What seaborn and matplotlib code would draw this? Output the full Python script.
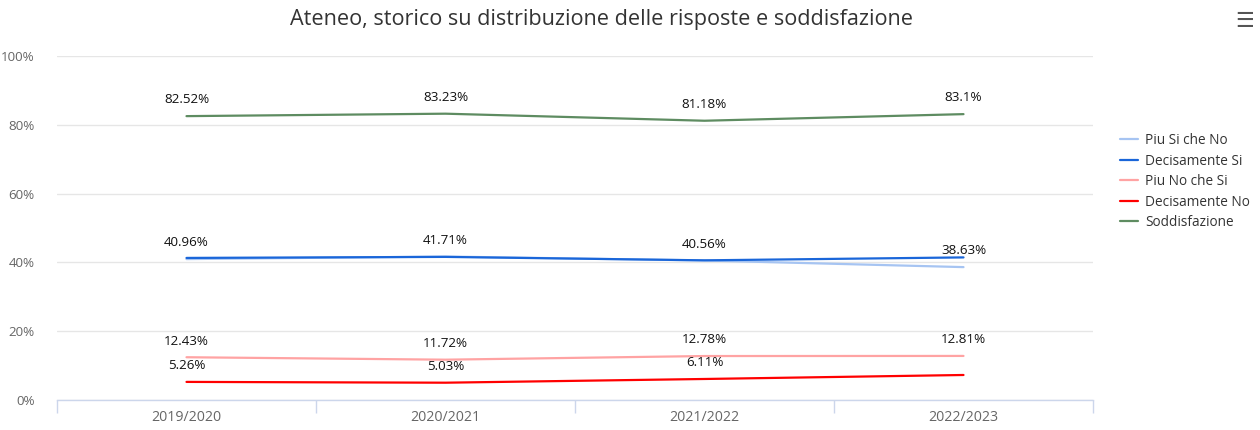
import pandas as pd
import matplotlib
matplotlib.use("Agg")
import matplotlib.pyplot as plt
from matplotlib.ticker import FixedLocator, PercentFormatter
import seaborn as sns

# data
years = ["2019/2020", "2020/2021", "2021/2022", "2022/2023"]
piu_si_che_no = [40.96, 41.71, 40.56, 38.63]
decisamente_si = [41.3, 41.6, 40.6, 41.45]
piu_no_che_si = [12.43, 11.72, 12.78, 12.81]
decisamente_no = [5.26, 5.03, 6.11, 7.27]
soddisfazione = [82.52, 83.23, 81.18, 83.1]

series_names = ["Piu Si che No", "Decisamente Si", "Piu No che Si", "Decisamente No", "Soddisfazione"]
series_values = [piu_si_che_no, decisamente_si, piu_no_che_si, decisamente_no, soddisfazione]
# which data labels are visible in the original (overlapping ones are hidden)
label_visible = [
    [True, True, True, True],
    [False, False, False, False],
    [True, True, True, True],
    [True, True, True, False],
    [True, True, True, True],
]
colors = ["#a6c4f2", "#1a66d9", "#ffa3a3", "#ff0000", "#5e8c61"]

df = pd.DataFrame(
    [(name, yr, v) for name, vals in zip(series_names, series_values) for yr, v in zip(years, vals)],
    columns=["serie", "anno", "valore"],
)

sns.set_style("white")
plt.rcParams["font.family"] = ["Open Sans", "DejaVu Sans"]

fig = plt.figure(figsize=(12.6, 4.3), dpi=100)
ax = fig.add_axes([57 / 1260, 30 / 430, (1093 - 57) / 1260, (400 - 56) / 430])

sns.lineplot(
    data=df, x="anno", y="valore", hue="serie",
    hue_order=series_names, palette=dict(zip(series_names, colors)),
    linewidth=1.6, ax=ax, legend=True, sort=False,
)

# data labels above the points
for name, vals, vis in zip(series_names, series_values, label_visible):
    for i, (v, show) in enumerate(zip(vals, vis)):
        if show:
            ax.annotate(f"{v:g}%", (i, v), xytext=(0, 7), textcoords="offset points",
                        ha="center", va="bottom", fontsize=9.6, color="#111111")

ax.set_xlim(-0.5, 3.5)
ax.set_ylim(0, 100)
ax.yaxis.set_major_locator(FixedLocator([0, 20, 40, 60, 80, 100]))
ax.yaxis.set_major_formatter(PercentFormatter(decimals=0))
ax.grid(axis="y", color="#e6e6e6", linewidth=1)
ax.grid(axis="x", visible=False)
ax.set_xlabel("")
ax.set_ylabel("")

ax.set_xticks(range(len(years)))
ax.set_xticklabels(years)
ax.xaxis.set_minor_locator(FixedLocator([-0.5, 0.5, 1.5, 2.5, 3.5]))
ax.tick_params(axis="x", which="major", bottom=False, length=0, pad=7, labelsize=10.2, labelcolor="#666666")
ax.tick_params(axis="x", which="minor", bottom=True, length=9, width=1, color="#ccd6eb", direction="out")
ax.tick_params(axis="y", length=0, pad=16, labelsize=9.6, labelcolor="#666666")

for side in ["top", "right", "left"]:
    ax.spines[side].set_visible(False)
ax.spines["bottom"].set_color("#ccd6eb")
ax.spines["bottom"].set_linewidth(1)

leg = ax.legend(
    loc="upper left", bbox_to_anchor=(1108 / 1260, 1 - 121 / 430), bbox_transform=fig.transFigure,
    frameon=False, fontsize=9.8, handlelength=1.3, handletextpad=0.5, labelspacing=0.4,
)
for txt in leg.get_texts():
    txt.set_color("#333333")

fig.text(601 / 1260, 1 - 19 / 430, "Ateneo, storico su distribuzione delle risposte e soddisfazione",
         ha="center", va="center", fontsize=15.6, color="#333333")
fig.text(1245 / 1260, 1 - 21 / 430, "\u2630", ha="center", va="center", fontsize=15,
         fontweight="bold", color="#555555", family="DejaVu Sans")

fig.savefig("out.png", dpi=100)
